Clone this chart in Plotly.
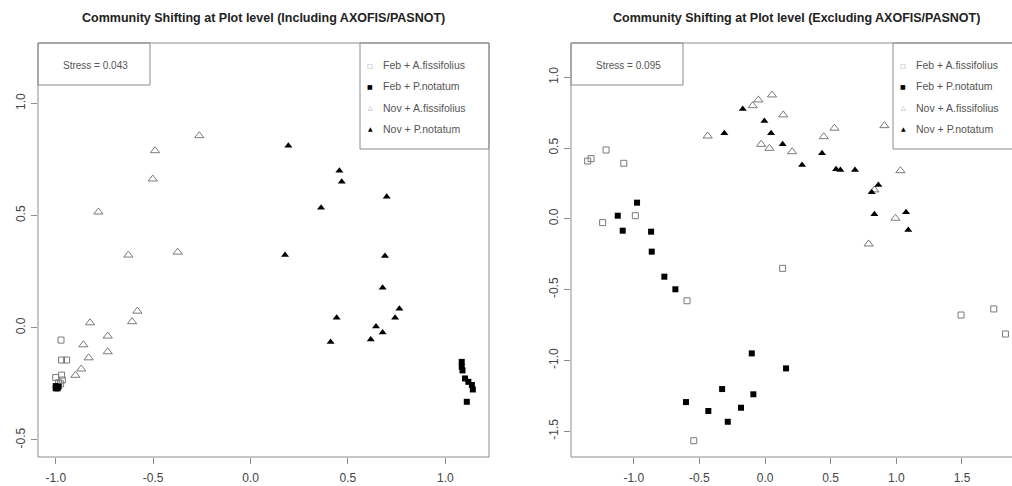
import plotly.graph_objects as go

W, H = 1012, 486

# ---------------- data: left panel (Including AXOFIS/PASNOT) ----------------
L_feb_afis_x = [-0.973, -0.970, -0.944, -0.970, -1.000, -0.966, -0.985, -0.975]
L_feb_afis_y = [-0.055, -0.144, -0.144, -0.211, -0.222, -0.233, -0.245, -0.250]
L_feb_pnot_x = [-1.000, -0.990, -1.000, -0.985, 1.084, 1.084, 1.088, 1.101, 1.118, 1.136, 1.141, 1.110]
L_feb_pnot_y = [-0.260, -0.270, -0.270, -0.262, -0.152, -0.174, -0.190, -0.226, -0.241, -0.255, -0.275, -0.330]
L_nov_afis_x = [-0.263, -0.490, -0.502, -0.781, -0.627, -0.374, -0.581, -0.608, -0.824, -0.733, -0.733, -0.858, -0.831, -0.869, -0.899]
L_nov_afis_y = [0.856, 0.789, 0.663, 0.516, 0.324, 0.337, 0.074, 0.027, 0.022, -0.037, -0.107, -0.076, -0.134, -0.184, -0.212]
L_nov_pnot_x = [0.194, 0.456, 0.468, 0.699, 0.362, 0.177, 0.690, 0.678, 0.764, 0.742, 0.442, 0.644, 0.678, 0.617, 0.411]
L_nov_pnot_y = [0.811, 0.700, 0.651, 0.584, 0.535, 0.324, 0.320, 0.178, 0.085, 0.045, 0.045, 0.006, -0.021, -0.052, -0.064]

# ---------------- data: right panel (Excluding AXOFIS/PASNOT) ----------------
R_feb_afis_x = [-1.351, -1.325, -1.211, -1.076, -1.237, -0.988, 0.134, -0.594, -0.543, 1.493, 1.742, 1.831]
R_feb_afis_y = [0.408, 0.425, 0.486, 0.392, -0.027, 0.022, -0.350, -0.579, -1.568, -0.680, -0.637, -0.814]
R_feb_pnot_x = [-0.975, -1.122, -1.084, -0.868, -0.863, -0.767, -0.683, -0.101, 0.160, -0.327, -0.089, -0.602, -0.183, -0.432, -0.284]
R_feb_pnot_y = [0.114, 0.022, -0.084, -0.091, -0.232, -0.409, -0.498, -0.951, -1.057, -1.203, -1.240, -1.295, -1.335, -1.358, -1.434]
R_nov_afis_x = [-0.437, -0.094, -0.051, 0.053, 0.139, -0.030, 0.033, 0.206, 0.447, 0.528, 0.909, 1.031, 0.833, 0.993, 0.789]
R_nov_afis_y = [0.585, 0.799, 0.840, 0.875, 0.734, 0.526, 0.498, 0.474, 0.580, 0.640, 0.658, 0.340, 0.204, 0.004, -0.178]
R_nov_pnot_x = [-0.170, -0.005, 0.046, -0.310, 0.134, 0.434, 0.282, 0.541, 0.574, 0.685, 0.863, 0.812, 0.833, 1.074, 1.091]
R_nov_pnot_y = [0.776, 0.691, 0.604, 0.604, 0.526, 0.463, 0.380, 0.350, 0.345, 0.345, 0.239, 0.187, 0.032, 0.046, -0.079]

titles = ["Community Shifting at Plot level (Including AXOFIS/PASNOT)",
          "Community Shifting at Plot level (Excluding AXOFIS/PASNOT)"]
stress_labels = ["Stress = 0.043", "Stress = 0.095"]
legend_labels = ["Feb + A.fissifolius", "Feb + P.notatum", "Nov + A.fissifolius", "Nov + P.notatum"]
legend_glyphs = ["\u25a1", "\u25a0", "\u25b3", "\u25b2"]

L_xticks = [-1.0, -0.5, 0.0, 0.5, 1.0]
L_yticks = [-0.5, 0.0, 0.5, 1.0]
R_xticks = [-1.0, -0.5, 0.0, 0.5, 1.0, 1.5]
R_yticks = [-1.5, -1.0, -0.5, 0.0, 0.5, 1.0]

GRAY = "#8c8c8c"
OPEN = "#7a7a7a"
FONT = "Liberation Sans, Arial, sans-serif"


def px(x):
    return x / W


def py(y):
    return 1 - y / H


fig = go.Figure()

styles = [
    dict(symbol="square-open", size=6, color=OPEN, line=dict(width=1, color=OPEN)),
    dict(symbol="square", size=6, color="black", line=dict(width=0)),
    dict(symbol="triangle-up-open", size=8, color=OPEN, line=dict(width=1, color=OPEN)),
    dict(symbol="triangle-up", size=7, color="black", line=dict(width=0)),
]

panels = [
    ("x", "y", [(L_feb_afis_x, L_feb_afis_y), (L_feb_pnot_x, L_feb_pnot_y),
                (L_nov_afis_x, L_nov_afis_y), (L_nov_pnot_x, L_nov_pnot_y)]),
    ("x2", "y2", [(R_feb_afis_x, R_feb_afis_y), (R_feb_pnot_x, R_feb_pnot_y),
                  (R_nov_afis_x, R_nov_afis_y), (R_nov_pnot_x, R_nov_pnot_y)]),
]
for xa, ya, series in panels:
    for (sx, sy), st, name in zip(series, styles, legend_labels):
        fig.add_trace(go.Scatter(x=sx, y=sy, mode="markers", name=name, xaxis=xa, yaxis=ya,
                                 marker=st, showlegend=False, cliponaxis=False))

# pixel geometry
top, bottom = 43, 457
L_left, L_right = 38, 489
R_left, R_right = 571, 1022

axis_common = dict(showgrid=False, zeroline=False, showline=False, ticks="outside",
                   ticklen=6, tickcolor=GRAY, tickwidth=1,
                   tickfont=dict(family=FONT, size=12, color="#444"))

fig.update_layout(
    width=W, height=H,
    margin=dict(l=0, r=0, t=0, b=0),
    plot_bgcolor="white", paper_bgcolor="white",
    showlegend=False,
    xaxis=dict(domain=[px(L_left), px(L_right)], range=[-1.091, 1.224],
               tickvals=L_xticks, ticktext=[f"{v:.1f}" for v in L_xticks],
               ticklabelstandoff=4, anchor="y", **axis_common),
    yaxis=dict(domain=[py(bottom), py(top)], range=[-0.576, 1.269],
               tickvals=L_yticks, ticktext=[f"{v:.1f}" for v in L_yticks],
               tickangle=-90, ticklabelstandoff=1, anchor="x", **axis_common),
    xaxis2=dict(domain=[px(R_left), 1.0], range=[-1.478, 1.881],
                tickvals=R_xticks, ticktext=[f"{v:.1f}" for v in R_xticks],
                ticklabelstandoff=4, anchor="y2", **axis_common),
    yaxis2=dict(domain=[py(bottom), py(top)], range=[-1.683, 1.242],
                tickvals=R_yticks, ticktext=[f"{v:.1f}" for v in R_yticks],
                tickangle=-90, ticklabelstandoff=1, anchor="x2", **axis_common),
)

shapes = []
annotations = []
for i, (left, right) in enumerate([(L_left, L_right), (R_left, R_right)]):
    # plot frame
    shapes.append(dict(type="rect", xref="paper", yref="paper",
                       x0=px(left), x1=px(right), y0=py(bottom), y1=py(top),
                       line=dict(color=GRAY, width=1), fillcolor="rgba(0,0,0,0)"))
    # stress box
    shapes.append(dict(type="rect", xref="paper", yref="paper",
                       x0=px(left), x1=px(left + 112), y0=py(85), y1=py(top),
                       line=dict(color=GRAY, width=1), fillcolor="rgba(0,0,0,0)"))
    annotations.append(dict(xref="paper", yref="paper", x=px(left + 57), y=py(65),
                            xanchor="center", yanchor="middle",
                            text=stress_labels[i], showarrow=False,
                            font=dict(family=FONT, size=10, color="#555")))
    # legend box
    lg_left = right - 129
    shapes.append(dict(type="rect", xref="paper", yref="paper",
                       x0=px(lg_left), x1=px(right), y0=py(149), y1=py(top),
                       line=dict(color=GRAY, width=1), fillcolor="rgba(0,0,0,0)"))
    for k, (lab, gl) in enumerate(zip(legend_labels, legend_glyphs)):
        yy = 65 + k * 21.3
        col = "#888" if k in (0, 2) else "black"
        annotations.append(dict(xref="paper", yref="paper", x=px(lg_left + 10), y=py(yy),
                                xanchor="center", yanchor="middle",
                                text=gl, showarrow=False,
                                font=dict(family="DejaVu Sans", size=6, color=col)))
        annotations.append(dict(xref="paper", yref="paper", x=px(lg_left + 21), y=py(yy),
                                xanchor="left", yanchor="middle", text=lab, showarrow=False,
                                font=dict(family=FONT, size=10.5, color="#555")))
    # title
    annotations.append(dict(xref="paper", yref="paper", x=px((left + right) / 2), y=py(18),
                            xanchor="center", yanchor="middle",
                            text=f"<b>{titles[i]}</b>", showarrow=False,
                            font=dict(family=FONT, size=12.5, color="#222")))

fig.update_layout(shapes=shapes, annotations=annotations)

fig.write_html("out.html")
